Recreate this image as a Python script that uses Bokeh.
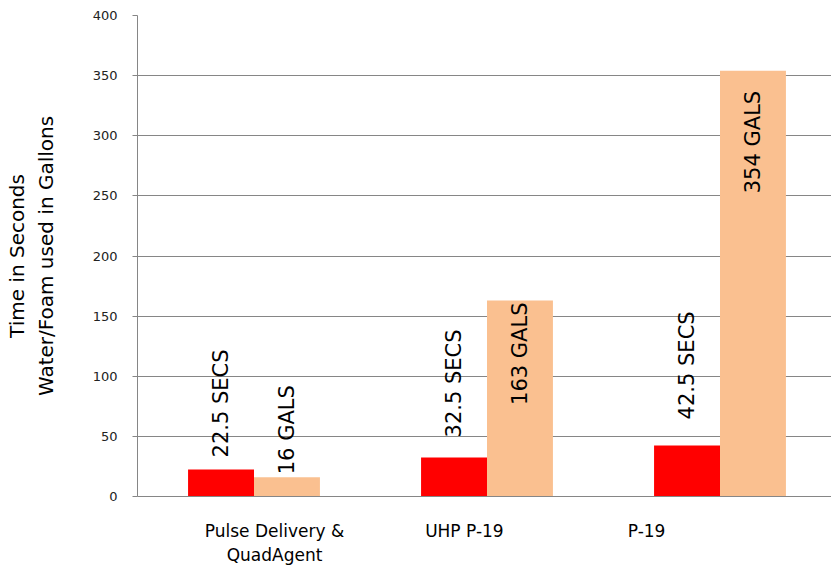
import math
from bokeh.plotting import figure
from bokeh.models import ColumnDataSource, Range1d, FixedTicker, CustomJSTickFormatter
from bokeh.core.properties import value
from bokeh.embed import file_html
from bokeh.resources import INLINE

# ---- data ----
categories = ["Pulse Delivery &\nQuadAgent", "UHP P-19", "P-19"]
seconds = [22.5, 32.5, 42.5]
gallons = [16, 163, 354]
sec_labels = ["22.5 SECS", "32.5 SECS", "42.5 SECS"]
gal_labels = ["16 GALS", "163 GALS", "354 GALS"]
y_ticks = [0, 50, 100, 150, 200, 250, 300, 350, 400]

# ---- style ----
RED = "#FF0000"
PEACH = "#FAC090"
GRID = "#868686"
FONT = "DejaVu Sans"
bar_w = 0.283
label_shift = [0.088, -0.097, -0.315]          # tick label shift (category units)
sec_gap = [12, 20, 26]                         # px above bar
gal_gap = [3, -2, -20]                         # px (+ above, - inside top)

idx = list(range(len(categories)))
centers = [i + 0.5 for i in idx]

p = figure(width=831, height=567, output_backend="svg", toolbar_location=None,
           x_range=Range1d(0, 694 / 233), y_range=Range1d(0, 400),
           min_border_left=137, min_border_right=0, min_border_top=15, min_border_bottom=71)
p.outline_line_color = None
p.background_fill_color = "white"
p.border_fill_color = "white"

red_src = ColumnDataSource(dict(x=[c - bar_w / 2 for c in centers], top=seconds))
pch_src = ColumnDataSource(dict(x=[c + bar_w / 2 for c in centers], top=gallons))
p.vbar(x="x", top="top", bottom=0, width=bar_w, source=red_src, fill_color=RED, line_color=None)
p.vbar(x="x", top="top", bottom=0, width=bar_w, source=pch_src, fill_color=PEACH, line_color=None)

# labels
lab_x, lab_y, lab_t, lab_al, lab_off = [], [], [], [], []
for i in idx:
    lab_x.append(centers[i] - bar_w / 2); lab_y.append(seconds[i]); lab_t.append(sec_labels[i])
    lab_al.append("left"); lab_off.append(-sec_gap[i])
    g = gal_gap[i]
    lab_x.append(centers[i] + bar_w / 2); lab_y.append(gallons[i]); lab_t.append(gal_labels[i])
    lab_al.append("left" if g >= 0 else "right"); lab_off.append(-g)
lab_src = ColumnDataSource(dict(x=lab_x, y=lab_y, t=lab_t, al=lab_al, off=lab_off))
p.text(x="x", y="y", text="t", source=lab_src, angle=math.pi / 2, text_align="al",
       text_baseline="middle", y_offset="off", text_font=value(FONT),
       text_font_size="21px", text_color="black")

# axes
p.xgrid.visible = False
p.ygrid.grid_line_color = GRID
p.ygrid.grid_line_width = 1
p.ygrid.ticker = FixedTicker(ticks=y_ticks)

p.yaxis.ticker = FixedTicker(ticks=y_ticks)
p.yaxis.axis_line_color = GRID
p.yaxis.major_tick_line_color = GRID
p.yaxis.major_tick_out = 5
p.yaxis.major_tick_in = 0
p.yaxis.minor_tick_line_color = None
p.yaxis.major_label_standoff = 15
p.yaxis.major_label_text_font = FONT
p.yaxis.major_label_text_font_size = "13px"
p.yaxis.major_label_text_color = "#222222"
p.yaxis.axis_label = "Time in Seconds\nWater/Foam used in Gallons"
p.yaxis.axis_label_text_font = FONT
p.yaxis.axis_label_text_font_size = "20px"
p.yaxis.axis_label_text_font_style = "normal"
p.yaxis.axis_label_text_color = "black"
p.yaxis.axis_label_standoff = 32

p.xaxis.ticker = FixedTicker(ticks=[c + s for c, s in zip(centers, label_shift)])
p.xaxis.formatter = CustomJSTickFormatter(args=dict(labels=categories), code="return labels[index];")
p.xaxis.axis_line_color = GRID
p.xaxis.major_tick_line_color = None
p.xaxis.minor_tick_line_color = None
p.xaxis.major_tick_out = 0
p.xaxis.major_label_standoff = 24
p.xaxis.major_label_text_font = FONT
p.xaxis.major_label_text_font_size = "17px"
p.xaxis.major_label_text_color = "black"

open("out.html", "w").write(file_html(p, INLINE))
